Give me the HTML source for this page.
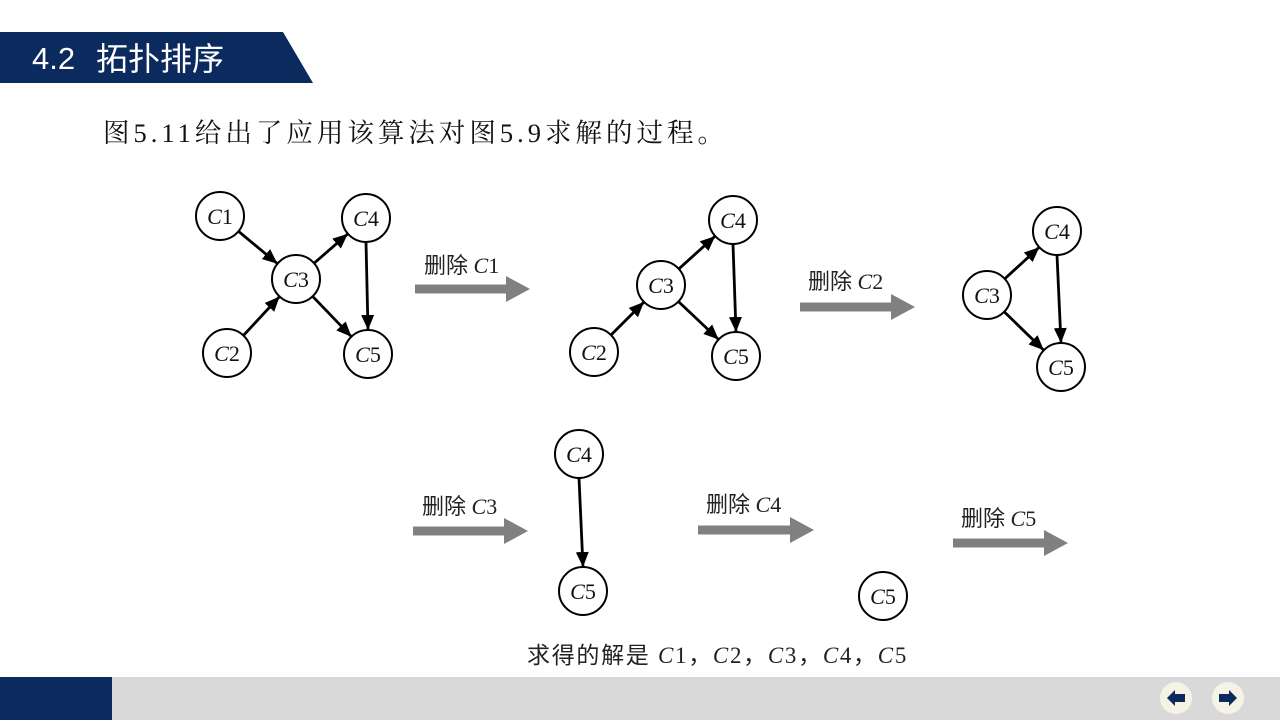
<!DOCTYPE html>
<html><head><meta charset="utf-8"><style>
html,body{margin:0;padding:0;background:#fff;}
body{width:1280px;height:720px;position:relative;overflow:hidden;}
</style></head><body>
<svg width="1280" height="720" viewBox="0 0 1280 720" xmlns="http://www.w3.org/2000/svg" style="position:absolute;left:0;top:0">
<defs>
<marker id="a" markerUnits="userSpaceOnUse" markerWidth="15" markerHeight="13" refX="15" refY="6.5" orient="auto"><path d="M0,0 L15,6.5 L0,13z" fill="#000"/></marker>
</defs>
<polygon points="0,32 283,32 313,83 0,83" fill="#0b2a5e"/>
<text x="32" y="69" fill="#fff" font-family="Liberation Sans, sans-serif" font-size="31">4.2</text>
<text x="96" y="70" fill="#fff" font-family="Noto Sans CJK SC, sans-serif" font-size="32">拓扑排序</text>
<text x="103" y="142" fill="#111" font-family="Liberation Serif, Noto Serif CJK SC, serif" font-size="26.5" letter-spacing="4">图5.11给出了应用该算法对图5.9求解的过程。</text>

<g stroke="#000" stroke-width="2.8" fill="none" marker-end="url(#a)">
<line x1="238.5" y1="231.3" x2="277.5" y2="263.7"/>
<line x1="243.4" y1="335.5" x2="279.6" y2="296.5"/>
<line x1="314.1" y1="263.2" x2="347.9" y2="233.8"/>
<line x1="312.6" y1="296.3" x2="351.4" y2="336.7"/>
<line x1="366" y1="242" x2="368" y2="330"/>
<line x1="611" y1="335" x2="644" y2="302"/>
<line x1="678.8" y1="268.9" x2="715.2" y2="236.1"/>
<line x1="678.4" y1="301.5" x2="718.6" y2="339.5"/>
<line x1="733" y1="244" x2="736" y2="332"/>
<line x1="1004.7" y1="278.8" x2="1039.3" y2="247.2"/>
<line x1="1004.2" y1="311.8" x2="1043.8" y2="350.2"/>
<line x1="1057" y1="255" x2="1061" y2="343"/>
<line x1="579" y1="478" x2="583" y2="567"/>
</g>

<g stroke="#000" stroke-width="2" fill="#fff">
<circle cx="220" cy="216" r="24"/><circle cx="296" cy="279" r="24"/><circle cx="366" cy="218" r="24"/><circle cx="227" cy="353" r="24"/><circle cx="368" cy="354" r="24"/>
<circle cx="733" cy="220" r="24"/><circle cx="661" cy="285" r="24"/><circle cx="594" cy="352" r="24"/><circle cx="736" cy="356" r="24"/>
<circle cx="1057" cy="231" r="24"/><circle cx="987" cy="295" r="24"/><circle cx="1061" cy="367" r="24"/>
<circle cx="579" cy="454" r="24"/><circle cx="583" cy="591" r="24"/>
<circle cx="883" cy="596" r="24"/>
</g>
<g font-family="Liberation Serif, serif" font-size="22" fill="#111" text-anchor="middle">
<text x="220" y="224"><tspan font-style="italic">C</tspan>1</text>
<text x="296" y="287"><tspan font-style="italic">C</tspan>3</text>
<text x="366" y="226"><tspan font-style="italic">C</tspan>4</text>
<text x="227" y="361"><tspan font-style="italic">C</tspan>2</text>
<text x="368" y="362"><tspan font-style="italic">C</tspan>5</text>
<text x="733" y="228"><tspan font-style="italic">C</tspan>4</text>
<text x="661" y="293"><tspan font-style="italic">C</tspan>3</text>
<text x="594" y="360"><tspan font-style="italic">C</tspan>2</text>
<text x="736" y="364"><tspan font-style="italic">C</tspan>5</text>
<text x="1057" y="239"><tspan font-style="italic">C</tspan>4</text>
<text x="987" y="303"><tspan font-style="italic">C</tspan>3</text>
<text x="1061" y="375"><tspan font-style="italic">C</tspan>5</text>
<text x="579" y="462"><tspan font-style="italic">C</tspan>4</text>
<text x="583" y="599"><tspan font-style="italic">C</tspan>5</text>
<text x="883" y="604"><tspan font-style="italic">C</tspan>5</text>
</g>

<g fill="#808080">
<polygon points="415,284.5 506,284.5 506,276 530,289 506,302 506,293.5 415,293.5"/>
<polygon points="800,302.5 891,302.5 891,294 915,307 891,320 891,311.5 800,311.5"/>
<polygon points="413,526.5 504,526.5 504,518 528,531 504,544 504,535.5 413,535.5"/>
<polygon points="698,525.5 790,525.5 790,517 814,530 790,543 790,534.5 698,534.5"/>
<polygon points="953,538.5 1044,538.5 1044,530 1068,543 1044,556 1044,547.5 953,547.5"/>
</g>
<g font-family="Liberation Serif, Noto Sans CJK SC, serif" font-size="22" fill="#222">
<text x="424" y="273">删除 <tspan font-style="italic">C</tspan>1</text>
<text x="808" y="289">删除 <tspan font-style="italic">C</tspan>2</text>
<text x="422" y="514">删除 <tspan font-style="italic">C</tspan>3</text>
<text x="706" y="512">删除 <tspan font-style="italic">C</tspan>4</text>
<text x="961" y="526">删除 <tspan font-style="italic">C</tspan>5</text>
</g>
<text x="527" y="663" font-family="Liberation Serif, Noto Sans CJK SC, serif" font-size="23" fill="#222" letter-spacing="1.7">求得的解是 <tspan font-style="italic">C</tspan>1，<tspan font-style="italic">C</tspan>2，<tspan font-style="italic">C</tspan>3，<tspan font-style="italic">C</tspan>4，<tspan font-style="italic">C</tspan>5</text>

<rect x="0" y="677" width="1280" height="43" fill="#d9d9d9"/>
<rect x="0" y="677" width="112" height="43" fill="#0b2a5e"/>
<circle cx="1176" cy="698" r="16" fill="#f5f2e6"/>
<circle cx="1228" cy="698" r="16" fill="#f5f2e6"/>
<polygon points="1167,698 1175,690 1175,694 1185,694 1185,702 1175,702 1175,706" fill="#0b2a5e"/>
<polygon points="1237,698 1229,690 1229,694 1219,694 1219,702 1229,702 1229,706" fill="#0b2a5e"/>
</svg>
</body></html>
